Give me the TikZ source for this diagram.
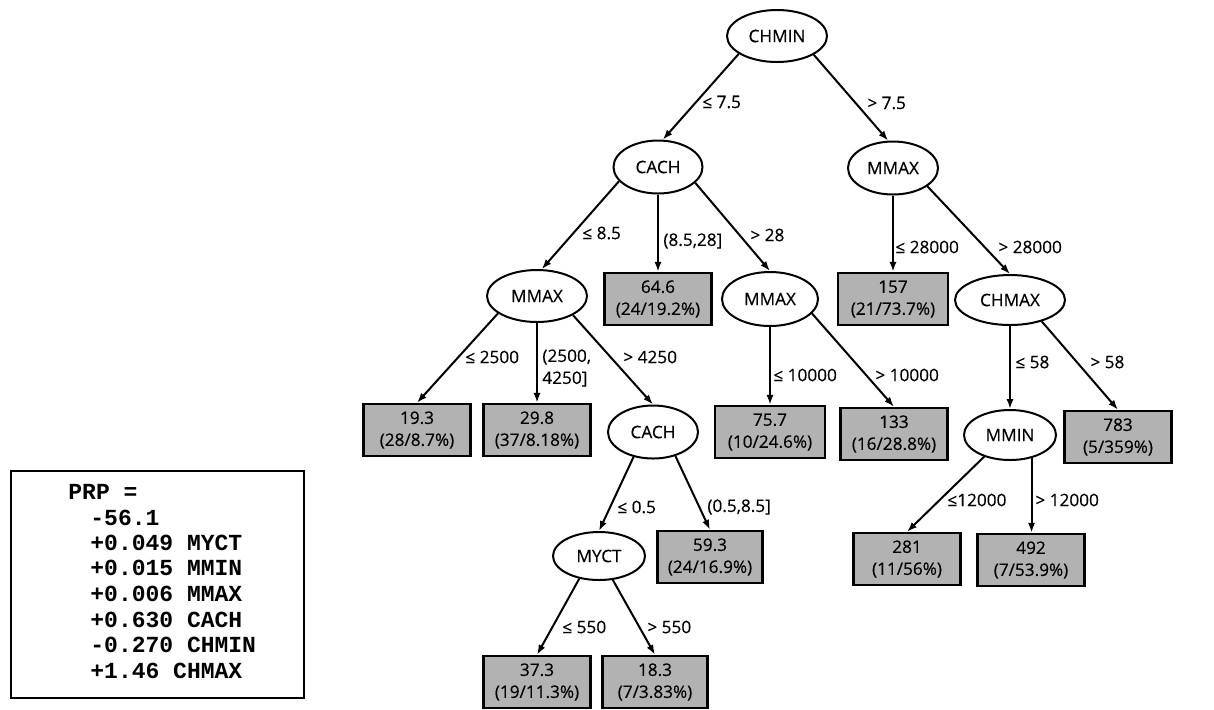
\documentclass[tikz,border=0pt]{standalone}
\usepackage{fontspec}
\setmainfont{Open Sans}[FakeBold=0.35]
\newfontfamily\monof{Liberation Mono}
\usetikzlibrary{shapes.geometric,arrows.meta}
\begin{document}
\begin{tikzpicture}[x=0.5pt,y=-0.5pt,
  every node/.style={font=\fontsize{8.6}{11}\selectfont},
  split/.style={ellipse,draw,line width=1pt,fill=white,inner sep=0pt,minimum width=46pt,minimum height=26pt},
  leaf/.style={rectangle,draw,line width=1.2pt,fill=black!30,inner sep=0pt,minimum width=53.5pt,minimum height=26pt,align=center},
  edge/.style={draw,line width=1pt,-{Latex[length=5pt,width=3.6pt]}},
  lab/.style={anchor=west,inner sep=0pt,align=left},
  code/.style={anchor=base west,inner sep=0pt,font=\monof\bfseries\fontsize{11.5}{13}\selectfont},
  formbox/.style={draw,line width=0.8pt,anchor=north west,inner sep=0pt,minimum width=146.5pt,minimum height=113.5pt}]
\useasboundingbox (0,0) rectangle (1214,709);
\fill[white] (0,0) rectangle (1214,709);

% split nodes
\node[split,minimum width=50pt] (chmin) at (777,36) {CHMIN};
\node[split,minimum width=44.5pt,minimum height=26.5pt] (cacht) at (658,167) {CACH};
\node[split,minimum width=45pt,minimum height=26.5pt] (mmaxr) at (893,168) {MMAX};
\node[split,minimum width=50pt] (mmaxl) at (537,296) {MMAX};
\node[split,minimum width=48pt,minimum height=27pt] (mmaxm) at (770,299) {MMAX};
\node[split,minimum width=55pt,minimum height=25pt] (chmax) at (1010,300) {CHMAX};
\node[split,minimum width=45pt,minimum height=26.5pt] (cachl) at (653,432) {CACH};
\node[split,minimum height=25pt] (mmin) at (1010,435) {MMIN};
\node[split,minimum height=24pt] (myct) at (599,556) {MYCT};

% leaves
\node[leaf] (b646) at (658,299) {64.6\\(24/19.2\%)};
\node[leaf,minimum width=55pt] (b157) at (893,299) {157\\(21/73.7\%)};
\node[leaf] (b193) at (417,430) {19.3\\(28/8.7\%)};
\node[leaf] (b298) at (537,430) {29.8\\(37/8.18\%)};
\node[leaf,minimum width=55pt] (b757) at (770,432) {75.7\\(10/24.6\%)};
\node[leaf] (b133) at (894,434) {133\\(16/28.8\%)};
\node[leaf] (b783) at (1118,437) {783\\(5/359\%)};
\node[leaf,minimum width=52.5pt] (b593) at (710,557) {59.3\\(24/16.9\%)};
\node[leaf] (b281) at (907,559) {281\\(11/56\%)};
\node[leaf] (b492) at (1031,560) {492\\(7/53.9\%)};
\node[leaf] (b373) at (537,682) {37.3\\(19/11.3\%)};
\node[leaf,minimum width=52.5pt] (b183) at (655,682) {18.3\\(7/3.83\%)};

% connectors
\draw[edge] (chmin.205) -- (cacht.80);
\draw[edge] (chmin.-27) -- (mmaxr.100);
\draw[edge] (cacht.200) -- (mmaxl.80);
\draw[edge] (cacht.south) -- (b646.north);
\draw[edge] (cacht.-23) -- (mmaxm.north);
\draw[edge] (mmaxl.204) -- (b193.north);
\draw[edge] (mmaxl.south) -- (b298.north);
\draw[edge] (mmaxl.-28) -- (cachl.north);
\draw[edge] (mmaxm.south) -- (b757.north);
\draw[edge] (mmaxm.-19) -- (b133.north);
\draw[edge] (mmaxr.south) -- (b157.north);
\draw[edge] (mmaxr.-28) -- (chmax.north);
\draw[edge] (chmax.south) -- (mmin.north);
\draw[edge] (chmax.-34) -- (b783.north);
\draw[edge] (mmin.220) -- (b281.north);
\draw[edge] (mmin.-47) -- (mmin.-47 |- b492.north);
\draw[edge] (cachl.232) -- (myct.north);
\draw[edge] (cachl.-47) -- (b593.north);
\draw[edge] (myct.229) -- (b373.north);
\draw[edge] (myct.-60) -- (b183.north);

% edge labels
\node[lab] (l1) at (702,102) {≤ 7.5};
\node[lab] (l2) at (867,103) {> 7.5};
\node[lab] (l3) at (582,233) {≤ 8.5};
\node[lab] (l4) at (663,241) {(8.5,28]};
\node[lab] (l5) at (750,235) {> 28};
\node[lab] (l6) at (895,247) {≤ 28000};
\node[lab] (l7) at (998,247) {> 28000};
\node[lab] (l8) at (465,357) {≤ 2500};
\node[lab] (l9) at (542,368) {(2500,\\4250]};
\node[lab] (l10) at (623,357) {> 4250};
\node[lab] (l11) at (773,375) {≤ 10000};
\node[lab] (l12) at (875,375) {> 10000};
\node[lab] (l13) at (1015,362) {≤ 58};
\node[lab] (l14) at (1090,362) {> 58};
\node[lab] (l15) at (947,500) {≤12000};
\node[lab] (l16) at (1035,500) {> 12000};
\node[lab] (l17) at (617,507) {≤ 0.5};
\node[lab] (l18) at (707,507) {(0.5,8.5]};
\node[lab] (l19) at (562,627) {≤ 550};
\node[lab] (l20) at (647,627) {> 550};

% formula box
\node[formbox] (fbox) at (10,470) {};
\node[code] (f0) at (68,499) {PRP =};
\node[code] (f1) at (90,525) {-56.1};
\node[code] (f2) at (90,550) {+0.049 MYCT};
\node[code] (f3) at (90,575) {+0.015 MMIN};
\node[code] (f4) at (90,601) {+0.006 MMAX};
\node[code] (f5) at (90,627) {+0.630 CACH};
\node[code] (f6) at (90,652) {-0.270 CHMIN};
\node[code] (f7) at (90,678) {+1.46 CHMAX};
\end{tikzpicture}
\end{document}
